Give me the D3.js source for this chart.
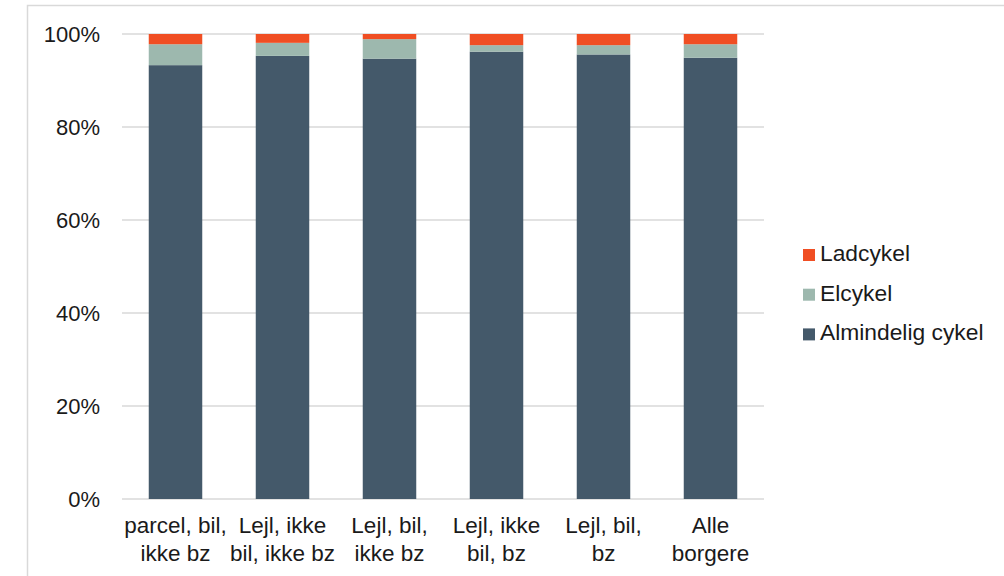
<!DOCTYPE html>
<html>
<head>
<meta charset="utf-8">
<script src="https://cdn.jsdelivr.net/npm/d3@7"></script>
<style>
  html, body { margin: 0; padding: 0; background: #fff; }
  svg { display: block; font-family: "Liberation Sans", Arial, sans-serif; }
</style>
</head>
<body>
<svg id="chart" width="1004" height="576"></svg>
<script>
// Categories (two-line labels) and share of each bike type, in percent
const categories = [
  ["parcel, bil,", "ikke bz"],
  ["Lejl, ikke", "bil, ikke bz"],
  ["Lejl, bil,", "ikke bz"],
  ["Lejl, ikke", "bil, bz"],
  ["Lejl, bil,", "bz"],
  ["Alle", "borgere"]
];
const almindelig = [93.3, 95.3, 94.7, 96.2, 95.6, 94.9];
const elcykel    = [4.5, 2.8, 4.2, 1.4, 2.0, 2.9];
const ladcykel   = [2.2, 1.9, 1.1, 2.4, 2.4, 2.2];
const seriesNames = ["Almindelig cykel", "Elcykel", "Ladcykel"];
const seriesColors = ["#44596a", "#9db8ae", "#f04e23"];
const yTicks = [0, 20, 40, 60, 80, 100];

const rows = categories.map((c, i) => ({
  key: i,
  "Almindelig cykel": almindelig[i],
  "Elcykel": elcykel[i],
  "Ladcykel": ladcykel[i]
}));

const svg = d3.select("#chart");
const FONT = "'Liberation Sans', Arial, sans-serif";
const TEXT = "#1a1a1a";

// outer frame
svg.append("rect")
  .attr("x", 27.5).attr("y", 5.5)
  .attr("width", 1010).attr("height", 600)
  .attr("fill", "none").attr("stroke", "#d9d9d9").attr("stroke-width", 1.5);

const plot = { left: 122, right: 764, top: 34, bottom: 499 };

const x = d3.scaleBand()
  .domain(rows.map(d => d.key))
  .range([plot.left, plot.right])
  .paddingInner(0.5).paddingOuter(0.25);

const y = d3.scaleLinear().domain([0, 100]).range([plot.bottom, plot.top]);

// gridlines
svg.append("g")
  .selectAll("line")
  .data(yTicks)
  .join("line")
  .attr("x1", plot.left).attr("x2", plot.right)
  .attr("y1", d => y(d)).attr("y2", d => y(d))
  .attr("stroke", "#d9d9d9").attr("stroke-width", 1.5);

// y axis labels
const yAxis = d3.axisLeft(y).tickValues(yTicks).tickFormat(d => d + "%").tickSize(0).tickPadding(22);
svg.append("g")
  .attr("transform", `translate(${plot.left},0)`)
  .call(yAxis)
  .call(g => g.select(".domain").remove())
  .call(g => g.selectAll("text").attr("font-size", 22).attr("fill", TEXT)
    .attr("font-family", FONT));

// stacked bars
const stack = d3.stack().keys(seriesNames);
const layers = stack(rows);

svg.append("g")
  .selectAll("g")
  .data(layers)
  .join("g")
  .attr("fill", (d, i) => seriesColors[i])
  .selectAll("rect")
  .data(d => d)
  .join("rect")
  .attr("x", d => x(d.data.key))
  .attr("width", x.bandwidth())
  .attr("y", d => y(d[1]))
  .attr("height", d => y(d[0]) - y(d[1]));

// category labels
const xLabels = svg.append("g")
  .selectAll("text")
  .data(categories)
  .join("text")
  .attr("text-anchor", "middle")
  .attr("font-family", FONT)
  .attr("font-size", 22.5)
  .attr("fill", TEXT)
  .attr("transform", (d, i) => `translate(${x(i) + x.bandwidth() / 2},0)`);
xLabels.selectAll("tspan")
  .data(d => d)
  .join("tspan")
  .attr("x", 0)
  .attr("y", (d, j) => 533 + j * 27.5)
  .text(d => d);

// legend (top entry is the top of the stack)
const legendItems = seriesNames.slice().reverse();
const legendColors = seriesColors.slice().reverse();
const legend = svg.append("g")
  .selectAll("g")
  .data(legendItems)
  .join("g")
  .attr("transform", (d, i) => `translate(803,${261 + i * 39.7})`);
legend.append("rect")
  .attr("x", 0).attr("y", -12)
  .attr("width", 12).attr("height", 12)
  .attr("fill", (d, i) => legendColors[i]);
legend.append("text")
  .attr("x", 17).attr("y", 0)
  .attr("font-family", FONT)
  .attr("font-size", 22.8)
  .attr("fill", TEXT)
  .text(d => d);
</script>
</body>
</html>
